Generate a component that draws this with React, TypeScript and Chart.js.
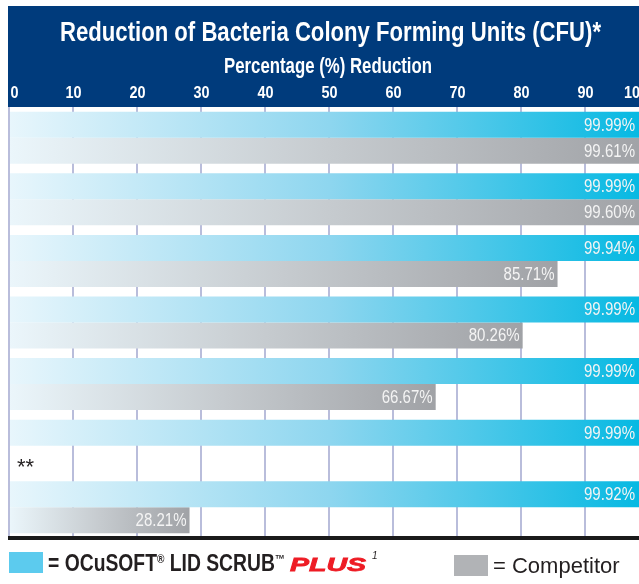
import React, { useEffect, useRef } from 'react';
import { Chart, registerables } from 'chart.js';

Chart.register(...registerables);

// ---------- data ----------
const categories = ['Test 1', 'Test 2', 'Test 3', 'Test 4', 'Test 5', 'Test 6', 'Test 7'];
const ocusoftValues = [99.99, 99.99, 99.94, 99.99, 99.99, 99.99, 99.92];
const competitorValues: (number | null)[] = [99.61, 99.6, 85.71, 80.26, 66.67, null, 28.21];
const tickValues = [0, 10, 20, 30, 40, 50, 60, 70, 80, 90, 100];
const TITLE = 'Reduction of Bacteria Colony Forming Units (CFU)*';
const SUBTITLE = 'Percentage (%) Reduction';
const NO_DATA_MARK = '**';

// ---------- styles ----------
const SANS = '"Liberation Sans", Arial, Helvetica, sans-serif';
const NAVY = '#003b7c';
const CYAN_STOPS = ['#e8f6fc', '#8ed6ef', '#02b8e2'];
const GRAY_STOPS = ['#ebf6fb', '#c6cbcf', '#a0a2a6'];
const VISIBLE_RIGHT = 631; // canvas px visible in the window
const TICK_CONDENSE = 0.9;

function gradientFor(stops: string[]) {
  return (ctx: any) => {
    const chart = ctx.chart;
    const { chartArea, scales } = chart;
    if (!chartArea || !scales || !scales.x || ctx.raw == null) return stops[1];
    const x0 = scales.x.getPixelForValue(0);
    const x1 = scales.x.getPixelForValue(ctx.raw);
    if (!isFinite(x0) || !isFinite(x1) || x1 - x0 < 1) return stops[1];
    const g = chart.ctx.createLinearGradient(x0, 0, x1, 0);
    g.addColorStop(0, stops[0]);
    g.addColorStop(0.5, stops[1]);
    g.addColorStop(1, stops[2]);
    return g;
  };
}

// draw text horizontally condensed by a factor
function condensedText(ctx: any, text: string, x: number, y: number, align: string, factor: number) {
  ctx.save();
  ctx.translate(x, y);
  ctx.scale(factor, 1);
  ctx.textAlign = align;
  ctx.fillText(text, 0, 0);
  ctx.restore();
}

const decorPlugin = {
  id: 'decor',
  beforeDraw(chart: any) {
    const { ctx, chartArea, width } = chart;
    ctx.save();
    ctx.fillStyle = NAVY;
    ctx.fillRect(0, 0, width, chartArea.top);
    ctx.fillStyle = '#ffffff';
    ctx.textBaseline = 'alphabetic';
    ctx.font = `bold 27px ${SANS}`;
    let w = ctx.measureText(TITLE).width;
    condensedText(ctx, TITLE, 322.5, 35, 'center', 541 / w);
    ctx.font = `bold 22px ${SANS}`;
    w = ctx.measureText(SUBTITLE).width;
    condensedText(ctx, SUBTITLE, 320, 67, 'center', 208 / w);
    ctx.restore();
  },
  afterDraw(chart: any) {
    const { ctx, chartArea, width } = chart;
    const xs = chart.scales.x;
    ctx.save();
    ctx.fillStyle = '#ffffff';
    ctx.font = `bold 16px ${SANS}`;
    ctx.textBaseline = 'alphabetic';
    tickValues.forEach((v, i) => {
      const shift = i === 0 ? 5.5 : i === tickValues.length - 1 ? -13 : 0.5;
      condensedText(ctx, String(v), xs.getPixelForValue(v) + shift, 91.5, 'center', TICK_CONDENSE);
    });
    ctx.fillStyle = '#1a1a1a';
    ctx.fillRect(0, chartArea.bottom - 2, width, 4);
    ctx.restore();
  },
  afterDatasetsDraw(chart: any) {
    const { ctx } = chart;
    ctx.save();
    ctx.font = `18px ${SANS}`;
    const f = 51 / ctx.measureText('99.99%').width;
    ctx.fillStyle = '#f4f4f4';
    ctx.textBaseline = 'middle';
    chart.data.datasets.forEach((ds: any, di: number) => {
      const meta = chart.getDatasetMeta(di);
      meta.data.forEach((el: any, i: number) => {
        const v = ds.data[i];
        if (v == null) return;
        const x = Math.min(el.x, VISIBLE_RIGHT - 1) - 3;
        condensedText(ctx, `${v.toFixed(2)}%`, x, el.y + 1, 'right', f);
      });
    });
    const meta0 = chart.getDatasetMeta(0);
    competitorValues.forEach((v, i) => {
      if (v != null) return;
      const el = meta0.data[i];
      ctx.font = `22px ${SANS}`;
      ctx.fillStyle = '#231f20';
      ctx.textAlign = 'left';
      ctx.textBaseline = 'alphabetic';
      ctx.fillText(NO_DATA_MARK, chart.chartArea.left + 8, el.y + el.height + 15);
    });
    ctx.restore();
  },
};

function BarChart() {
  const ref = useRef<HTMLCanvasElement | null>(null);
  useEffect(() => {
    if (!ref.current) return;
    const chart = new Chart(ref.current, {
      type: 'bar',
      data: {
        labels: categories,
        datasets: [
          {
            label: 'OCuSOFT LID SCRUB PLUS',
            data: ocusoftValues,
            backgroundColor: gradientFor(CYAN_STOPS) as any,
            borderWidth: 0,
            categoryPercentage: 0.845,
            barPercentage: 1,
          },
          {
            label: 'Competitor',
            data: competitorValues as any,
            backgroundColor: gradientFor(GRAY_STOPS) as any,
            borderWidth: 0,
            categoryPercentage: 0.845,
            barPercentage: 1,
          },
        ],
      },
      options: {
        indexAxis: 'y',
        responsive: false,
        animation: false,
        devicePixelRatio: 1,
        layout: { padding: { left: 1, right: 4, top: 0, bottom: 4 } },
        plugins: {
          legend: { display: false },
          title: { display: false },
          tooltip: { enabled: false },
        },
        scales: {
          x: {
            position: 'top',
            min: 0,
            max: 100,
            afterBuildTicks: (s: any) => {
              s.ticks = tickValues.map((v) => ({ value: v }));
            },
            ticks: { display: false },
            grid: { color: '#b9bddb', lineWidth: 2, drawTicks: false },
            border: { display: false },
            afterFit: (s: any) => {
              s.height = 101;
              s.paddingLeft = 0;
              s.paddingRight = 0;
            },
          },
          y: { display: false },
        },
      },
      plugins: [decorPlugin],
    } as any);
    return () => chart.destroy();
  }, []);
  return <canvas ref={ref} width={645} height={536} style={{ display: 'block' }} />;
}

const legendText = {
  position: 'absolute' as const,
  whiteSpace: 'nowrap' as const,
  color: '#231f20',
  fontFamily: SANS,
};

export default function App() {
  return (
    <div style={{ position: 'fixed', left: 8, top: 6, width: 631, height: 578, overflow: 'hidden' }}>
      <div style={{ position: 'absolute', left: 0, top: 0, width: 645 }}>
        <BarChart />
      </div>
      <div style={{ position: 'absolute', left: 0, top: 536, height: 42, width: 631 }}>
        <div style={{ position: 'absolute', left: 1, top: 10, width: 34, height: 21, background: '#5ccbee' }} />
        <div
          style={{
            ...legendText,
            left: 40,
            top: 10,
            lineHeight: '23px',
            fontWeight: 'bold',
            fontSize: 23,
            transform: 'scaleX(0.84)',
            transformOrigin: 'left top',
          }}
        >
          = OCuSOFT<sup style={{ fontSize: 12, verticalAlign: 8, lineHeight: 0 }}>®</sup> LID SCRUB
          <sup style={{ fontSize: 12, verticalAlign: 8, lineHeight: 0 }}>™</sup>
        </div>
        <div
          style={{
            ...legendText,
            left: 282,
            top: 13,
            lineHeight: '19px',
            color: '#ee1c25',
            fontWeight: 'bold',
            fontStyle: 'italic',
            fontSize: 19,
            transform: 'scaleX(1.5)',
            transformOrigin: 'left top',
            WebkitTextStroke: '0.8px #ee1c25',
          }}
        >
          PLUS
        </div>
        <div style={{ ...legendText, left: 364, top: 9, fontSize: 10, lineHeight: '10px', fontStyle: 'italic' }}>1</div>
        <div style={{ position: 'absolute', left: 446, top: 13, width: 34, height: 21, background: '#b1b3b6' }} />
        <div style={{ ...legendText, left: 485, top: 13, lineHeight: '22px', fontSize: 22 }}>= Competitor</div>
      </div>
    </div>
  );
}
